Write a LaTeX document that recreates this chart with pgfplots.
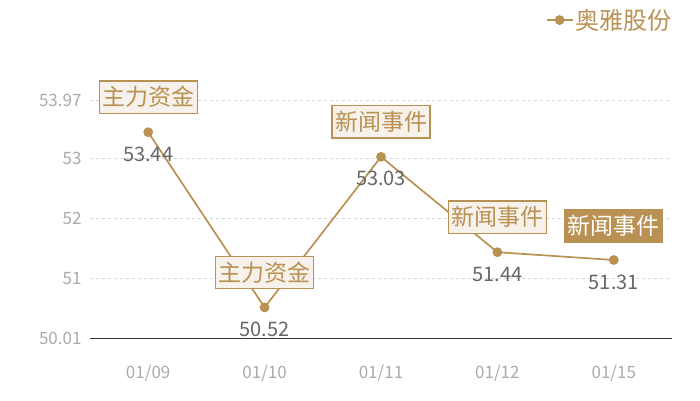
\documentclass[border=0pt]{standalone}
\usepackage{pgfplots}
\pgfplotsset{compat=1.18}
\usepackage{fontspec}
\setmainfont{Noto Sans CJK SC}

\definecolor{gold}{RGB}{185,145,82}
\definecolor{boxfill}{RGB}{246,241,234}
\definecolor{ticktext}{RGB}{170,170,170}
\definecolor{valtext}{RGB}{102,102,102}
\definecolor{gridc}{RGB}{212,212,212}
\definecolor{axisc}{RGB}{51,51,51}

\pgfplotstableread{
x y lab
0 53.44 53.44
1 50.52 50.52
2 53.03 53.03
3 51.44 51.44
4 51.31 51.31
}\prices

\begin{document}
\begin{tikzpicture}
\useasboundingbox (0,0) rectangle (700pt,400pt);
\begin{axis}[
  at={(90pt,62pt)}, anchor=south west,
  scale only axis, width=582pt, height=237.6pt,
  xmin=-0.5, xmax=4.5, ymin=50.01, ymax=53.97,
  xtick={0,1,2,3,4},
  xticklabels={01/09,01/10,01/11,01/12,01/15},
  ytick={50.01,51,52,53,53.97},
  yticklabels={50.01,51,52,53,53.97},
  /pgf/number format/assume math mode=true,
  axis x line*=bottom, axis y line*=left,
  x axis line style={-, draw=axisc, line width=0.8pt},
  y axis line style={draw=none},
  major tick length=0pt,
  ymajorgrids, grid style={dashed, gridc, line width=0.6pt},
  xticklabel style={text=ticktext, font=\fontsize{17}{17}\selectfont, yshift=-23pt},
  yticklabel style={text=ticktext, font=\fontsize{17}{17}\selectfont, xshift=-5pt},
  legend style={draw=none, fill=none, at={(1.008,1.338)}, anchor=east,
    font=\fontsize{24}{24}\selectfont, text=gold},
  legend image code/.code={%
    \draw[mark repeat=2, mark phase=2, #1] plot coordinates {(0pt,0pt)(13pt,0pt)(26pt,0pt)};},
  clip=false,
]
\addplot[gold, line width=1.7pt, mark=*, mark size=4pt,
  mark options={fill=gold, draw=gold},
  nodes near coords, point meta=explicit symbolic,
  nodes near coords style={anchor=center, yshift=-22pt, text=valtext,
    font=\fontsize{20}{20}\selectfont}]
  table[x=x, y=y, meta=lab] {\prices};
\addlegendentry{奥雅股份}

\addplot[draw=none, mark=none, forget plot,
  nodes near coords, point meta=explicit symbolic,
  nodes near coords style={anchor=center, yshift=35pt, draw=gold, fill=boxfill,
    text=gold, line width=1.2pt, inner xsep=3pt, inner ysep=5.5pt,
    font=\fontsize{23}{23}\selectfont}]
  coordinates {
    (0,53.44) [主力资金]
    (1,50.52) [主力资金]
    (2,53.03) [新闻事件]
    (3,51.44) [新闻事件]
  };

\addplot[draw=none, mark=none, forget plot,
  nodes near coords, point meta=explicit symbolic,
  nodes near coords style={anchor=center, yshift=34pt, draw=gold, fill=gold,
    text=white, line width=1.2pt, inner xsep=3pt, inner ysep=5.5pt,
    font=\fontsize{23}{23}\selectfont}]
  coordinates {
    (4,51.31) [新闻事件]
  };
\end{axis}
\end{tikzpicture}
\end{document}
